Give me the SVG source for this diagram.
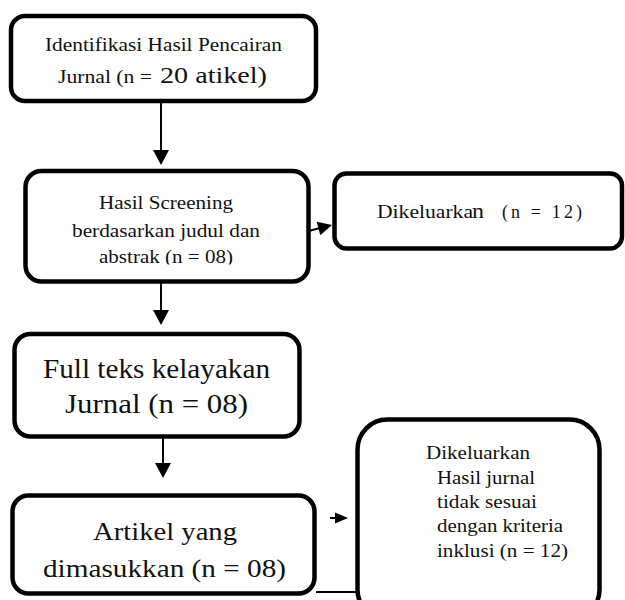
<svg xmlns="http://www.w3.org/2000/svg" width="625" height="600" viewBox="0 0 625 600">
<style>
.box{fill:#fff;stroke:#000;stroke-width:4.5}
.ln{stroke:#000;stroke-width:2;fill:none}
.ah{fill:#000;stroke:none}
</style>
<defs>
<clipPath id="clip2"><rect x="0" y="0" width="625" height="264.5"/></clipPath>
</defs>
<rect width="625" height="600" fill="#fff"/>
<g id="connectors">
<line class="ln" x1="161" y1="102" x2="161" y2="151"/>
<polygon class="ah" points="153,150 169,150 161,165"/>
<line class="ln" x1="161" y1="283" x2="161" y2="311"/>
<polygon class="ah" points="153,310 169,310 161,325"/>
<line class="ln" x1="163" y1="438" x2="163" y2="464"/>
<polygon class="ah" points="155,463 171,463 163,478"/>
<line class="ln" x1="309" y1="231" x2="320" y2="228"/>
<polygon class="ah" points="320.3,235.3 316.7,221.7 332,225"/>
<line class="ln" x1="330" y1="518" x2="336" y2="518"/>
<polygon class="ah" points="335,512.5 335,523.5 348,518"/>
<line class="ln" x1="316" y1="592" x2="357" y2="592"/>
</g>
<g font-family="Liberation Serif" fill="#111">
<g id="n1">
<rect class="box" x="11" y="16" width="305" height="85" rx="14"/>
<text x="45" y="51" font-size="19" textLength="237" lengthAdjust="spacingAndGlyphs">Identifikasi Hasil Pencairan</text>
<text x="58" y="83" font-size="19" textLength="94" lengthAdjust="spacingAndGlyphs">Jurnal (n =</text>
<text x="160" y="83" font-size="24" textLength="107" lengthAdjust="spacingAndGlyphs">20 atikel)</text>
</g>
<g id="n2">
<rect class="box" x="25.5" y="171" width="283" height="110.5" rx="16"/>
<text x="99" y="209" font-size="18" textLength="134" lengthAdjust="spacingAndGlyphs">Hasil Screening</text>
<text x="72" y="237" font-size="18" textLength="188" lengthAdjust="spacingAndGlyphs">berdasarkan judul dan</text>
<text x="99" y="263" font-size="18" textLength="134" lengthAdjust="spacingAndGlyphs" clip-path="url(#clip2)">abstrak (n = 08)</text>
</g>
<g id="n3">
<rect class="box" x="334.5" y="173.5" width="287.5" height="75" rx="12"/>
<text x="377" y="218" font-size="18" textLength="96" lengthAdjust="spacingAndGlyphs">Dikeluarka</text>
<text x="472" y="218" font-size="21" textLength="12" lengthAdjust="spacingAndGlyphs">n</text>
<text x="502" y="218" font-size="18" textLength="80" lengthAdjust="spacing">(n = 12)</text>
</g>
<g id="n4">
<rect class="box" x="14.5" y="334" width="285" height="102.5" rx="16"/>
<text x="43" y="378" font-size="27" textLength="227" lengthAdjust="spacingAndGlyphs">Full teks kelayakan</text>
<text x="65" y="413" font-size="27" textLength="183" lengthAdjust="spacingAndGlyphs">Jurnal (n  = 08)</text>
</g>
<g id="n5">
<rect class="box" x="12.5" y="495.5" width="302" height="98" rx="16"/>
<text x="93" y="540" font-size="26" textLength="144" lengthAdjust="spacingAndGlyphs">Artikel yang</text>
<text x="43" y="577" font-size="26" textLength="243" lengthAdjust="spacingAndGlyphs">dimasukkan (n = 08)</text>
</g>
<g id="n6">
<rect class="box" x="357.5" y="419.5" width="242" height="200" rx="30"/>
<text x="426" y="459" font-size="19" textLength="104" lengthAdjust="spacingAndGlyphs">Dikeluarkan</text>
<text x="437" y="484" font-size="19" textLength="98" lengthAdjust="spacingAndGlyphs">Hasil jurnal</text>
<text x="437" y="508" font-size="19" textLength="100" lengthAdjust="spacingAndGlyphs">tidak sesuai</text>
<text x="437" y="532" font-size="19" textLength="126" lengthAdjust="spacingAndGlyphs">dengan kriteria</text>
<text x="437" y="557" font-size="19" textLength="131" lengthAdjust="spacingAndGlyphs">inklusi (n = 12)</text>
</g>
</g>
</svg>
